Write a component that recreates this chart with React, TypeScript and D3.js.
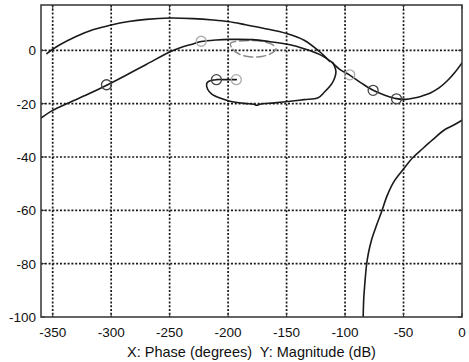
import React from 'react';
import * as d3 from 'd3';

// phase (deg), magnitude (dB)
const upperArc: [number, number][] = [
  [-355, -1.2], [-345, 1.8], [-330, 5.2], [-315, 7.8], [-301, 9.4], [-285, 10.8],
  [-270, 11.6], [-250, 12.1], [-230, 11.9], [-213, 11.4], [-200, 10.8], [-185, 9.6],
  [-170, 8.3], [-150, 6.3], [-135, 3.8], [-122, -0.4], [-113, -4.2],
];
const lowerArc: [number, number][] = [
  [-360, -25.4], [-350, -22.5], [-338, -20], [-320, -16.5], [-303, -12.9], [-285, -8.8],
  [-270, -5.3], [-250, -0.6], [-241, 1], [-230, 2.4], [-223, 3.3], [-210, 3.9],
  [-198, 4.1], [-179, 4], [-165, 3.3], [-147, 2.1], [-135, 0.6], [-121.5, -1.6], [-111, -4.5],
];
const tailCurve: [number, number][] = [
  [-111, -4.6], [-104, -7.3], [-96, -9.3], [-86, -12.3], [-76, -15], [-66, -16.8],
  [-56, -18.1], [-48, -18.4], [-41, -17.9], [-34, -17.1], [-27, -16], [-20, -14.2],
  [-13, -11.6], [-6, -8.2], [0, -4.7],
];
const loopCurve: [number, number][] = [
  [-193, -11], [-201, -11], [-210, -11], [-216, -11.5], [-218.3, -12.4], [-217.5, -14.6],
  [-214, -16.4], [-207, -17.9], [-198.4, -19.1], [-186, -19.9], [-178, -20.2], [-175.6, -20.6],
  [-172, -20.1], [-160, -19.7], [-147, -19.1], [-135, -18.5], [-123, -17.8], [-118, -15.8],
  [-113, -13.5], [-110, -11.5], [-107.8, -7.9], [-109.6, -5.4], [-110.5, -4.6],
];
const ellipseCurve: [number, number][] = [
  [-198, 2.6], [-196, 0.4], [-190, -1.5], [-180, -2.5], [-170, -2.2], [-162, -0.9],
  [-159, 0.6], [-162, 2.1], [-170, 3.3], [-180, 3.7], [-190, 3.5],
];
const steepCurve: [number, number][] = [
  [0, -26.2], [-7, -28], [-14.6, -29.7], [-25, -33.5], [-34, -37], [-42, -40.2],
  [-50, -44.5], [-58.7, -49.6], [-64, -54.5], [-68.7, -60.4], [-73, -65.5], [-77.3, -71],
  [-80, -76], [-81.6, -80.4], [-83, -87], [-84, -93], [-84.5, -100],
];
const darkMarkers: [number, number][] = [[-304, -12.9], [-210, -11], [-76, -15], [-56, -18.2]];
const lightMarkers: [number, number][] = [[-223, 3.4], [-193, -11], [-96, -9.2]];

const xTicks = [-350, -300, -250, -200, -150, -100, -50, 0];
const yTicks = [-100, -80, -60, -40, -20, 0];
const xLabel = 'X: Phase (degrees)  Y: Magnitude (dB)';

const W = 469;
const H = 362;
const left = 41, right = 462, top = 5, bottom = 317;

export default function App() {
  const x = d3.scaleLinear().domain([-360, 0]).range([left, right]);
  const y = d3.scaleLinear().domain([-100, 17]).range([bottom, top]);

  const line = d3.line<[number, number]>()
    .x(d => x(d[0]))
    .y(d => y(d[1]))
    .curve(d3.curveCatmullRom.alpha(0.5));
  const closed = d3.line<[number, number]>()
    .x(d => x(d[0]))
    .y(d => y(d[1]))
    .curve(d3.curveCatmullRomClosed.alpha(0.5));

  const font = '"Liberation Sans", Arial, sans-serif';
  const ink = '#1a1a1a';

  return (
    <svg width={W} height={H} style={{ position: 'absolute', left: 0, top: 0, background: '#fff' }}>
      <defs>
        <clipPath id="plot">
          <rect x={left} y={top} width={right - left} height={bottom - top} />
        </clipPath>
      </defs>
      <rect x={0} y={0} width={W} height={H} fill="#fff" />

      {/* grid */}
      <g stroke={ink} strokeWidth={1.7} strokeDasharray="2,1.8">
        {xTicks.filter(t => t > -360 && t < 0).map(t => (
          <line key={'gx' + t} x1={x(t)} x2={x(t)} y1={top} y2={bottom} />
        ))}
        {yTicks.filter(t => t > -100).map(t => (
          <line key={'gy' + t} x1={left} x2={right} y1={y(t)} y2={y(t)} />
        ))}
      </g>

      {/* curves */}
      <g clipPath="url(#plot)" fill="none" strokeLinejoin="round" strokeLinecap="round">
        <path d={closed(ellipseCurve) ?? ''} stroke="#8a8a8a" strokeWidth={1.5} strokeDasharray="9,4" />
        <path d={line(upperArc) ?? ''} stroke={ink} strokeWidth={1.6} />
        <path d={line(lowerArc) ?? ''} stroke={ink} strokeWidth={1.6} />
        <path d={line(tailCurve) ?? ''} stroke={ink} strokeWidth={1.6} />
        <path d={line(loopCurve) ?? ''} stroke={ink} strokeWidth={1.6} />
        <path d={line(steepCurve) ?? ''} stroke={ink} strokeWidth={1.6} />
        {lightMarkers.map((d, i) => (
          <circle key={'lm' + i} cx={x(d[0])} cy={y(d[1])} r={5} stroke="#aaa" strokeWidth={1.3} />
        ))}
        {darkMarkers.map((d, i) => (
          <circle key={'dm' + i} cx={x(d[0])} cy={y(d[1])} r={5} stroke="#444" strokeWidth={1.3} />
        ))}
      </g>

      {/* frame and ticks */}
      <rect x={left} y={top} width={right - left} height={bottom - top} fill="none" stroke="#333" strokeWidth={1.5} />
      <g stroke="#333" strokeWidth={1}>
        {xTicks.map(t => (
          <g key={'tx' + t}>
            <line x1={x(t)} x2={x(t)} y1={bottom} y2={bottom - 4} />
            <line x1={x(t)} x2={x(t)} y1={top} y2={top + 4} />
          </g>
        ))}
        {yTicks.map(t => (
          <g key={'ty' + t}>
            <line x1={left} x2={left + 4} y1={y(t)} y2={y(t)} />
            <line x1={right} x2={right - 4} y1={y(t)} y2={y(t)} />
          </g>
        ))}
      </g>

      {/* labels */}
      <g fontFamily={font} fill="#111">
        {xTicks.map(t => (
          <text key={'lx' + t} x={x(t)} y={337} fontSize={13.5} textAnchor="middle">{t}</text>
        ))}
        {yTicks.map(t => (
          <text key={'ly' + t} x={36} y={y(t)} dy="0.36em" fontSize={13.5} textAnchor="end">{t}</text>
        ))}
        <text x={(left + right) / 2} y={357} fontSize={14.5} textAnchor="middle" style={{ whiteSpace: 'pre' }}>{xLabel}</text>
      </g>
    </svg>
  );
}
